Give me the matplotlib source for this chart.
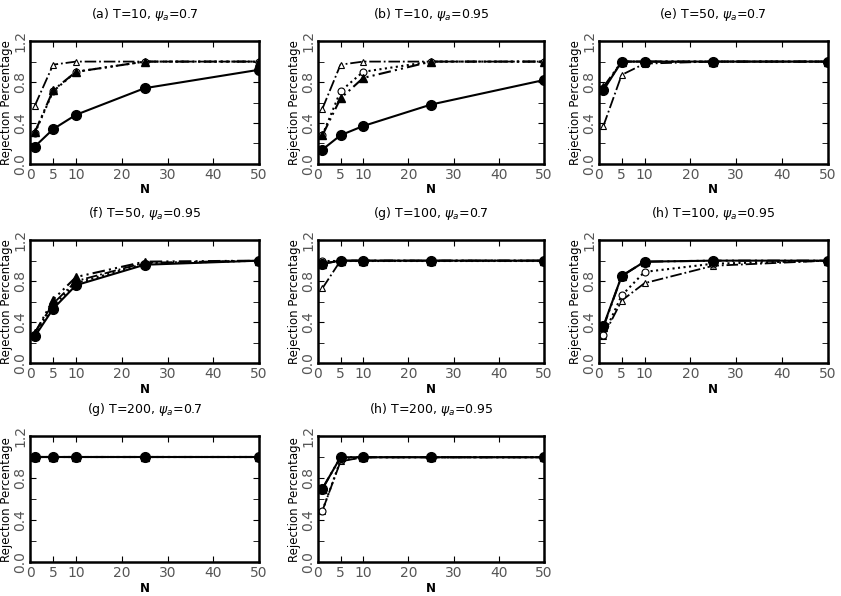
import matplotlib
matplotlib.use('Agg')
import matplotlib.pyplot as plt
from matplotlib.ticker import MultipleLocator

# sample sizes on the x axis
n_vals = [1, 5, 10, 25, 50]

titles = [
    r'(a) T=10, $\psi_a$=0.7',
    r'(b) T=10, $\psi_a$=0.95',
    r'(e) T=50, $\psi_a$=0.7',
    r'(f) T=50, $\psi_a$=0.95',
    r'(g) T=100, $\psi_a$=0.7',
    r'(h) T=100, $\psi_a$=0.95',
    r'(g) T=200, $\psi_a$=0.7',
    r'(h) T=200, $\psi_a$=0.95',
]

# series: solid/filled circle, dashed/filled triangle, dotted/open circle, dashdot/open triangle
s1 = [
    [0.17, 0.34, 0.48, 0.74, 0.92],
    [0.14, 0.28, 0.37, 0.58, 0.82],
    [0.72, 1.0, 1.0, 1.0, 1.0],
    [0.26, 0.53, 0.76, 0.96, 1.0],
    [0.97, 1.0, 1.0, 1.0, 1.0],
    [0.36, 0.85, 0.99, 1.0, 1.0],
    [1.0, 1.0, 1.0, 1.0, 1.0],
    [0.70, 1.0, 1.0, 1.0, 1.0],
]
s2 = [
    [0.31, 0.72, 0.90, 1.0, 1.0],
    [0.28, 0.64, 0.84, 1.0, 1.0],
    [0.75, 1.0, 1.0, 1.0, 1.0],
    [0.29, 0.62, 0.84, 0.99, 1.0],
    [0.97, 1.0, 1.0, 1.0, 1.0],
    [0.35, 0.85, 0.99, 1.0, 1.0],
    [1.0, 1.0, 1.0, 1.0, 1.0],
    [0.70, 1.0, 1.0, 1.0, 1.0],
]
s3 = [
    [0.30, 0.71, 0.90, 1.0, 1.0],
    [0.28, 0.71, 0.90, 1.0, 1.0],
    [0.73, 1.0, 1.0, 1.0, 1.0],
    [0.27, 0.56, 0.78, 0.97, 1.0],
    [1.0, 1.0, 1.0, 1.0, 1.0],
    [0.27, 0.66, 0.89, 0.97, 1.0],
    [1.0, 1.0, 1.0, 1.0, 1.0],
    [0.49, 0.97, 1.0, 1.0, 1.0],
]
s4 = [
    [0.57, 0.97, 1.0, 1.0, 1.0],
    [0.54, 0.97, 1.0, 1.0, 1.0],
    [0.37, 0.87, 0.98, 1.0, 1.0],
    [0.30, 0.58, 0.80, 0.98, 1.0],
    [0.73, 1.0, 1.0, 1.0, 1.0],
    [0.26, 0.61, 0.78, 0.95, 1.0],
    [1.0, 1.0, 1.0, 1.0, 1.0],
    [0.49, 0.96, 1.0, 1.0, 1.0],
]

fig = plt.figure(figsize=(8.41, 5.96), dpi=100)

lefts = [0.036, 0.378, 0.712]
widths = [0.272, 0.269, 0.272]
bottoms = [0.725, 0.391, 0.057]
heights = [0.206, 0.206, 0.211]

for i in range(8):
    r, c = divmod(i, 3)
    ax = fig.add_axes([lefts[c], bottoms[r], widths[c], heights[r]])
    ax.plot(n_vals, s4[i], color='black', linestyle='-.', lw=1.3,
            marker='^', ms=5, mfc='white', mec='black', mew=0.8)
    ax.plot(n_vals, s3[i], color='black', linestyle=':', lw=1.5,
            marker='o', ms=5, mfc='white', mec='black', mew=0.8)
    ax.plot(n_vals, s2[i], color='black', linestyle=(0, (6, 2, 1, 2, 1, 2)), lw=1.5,
            marker='^', ms=6, mfc='black', mec='black')
    ax.plot(n_vals, s1[i], color='black', linestyle='-', lw=1.5,
            marker='o', ms=7, mfc='black', mec='black')
    ax.set_xlim(0, 50)
    ax.set_ylim(0, 1.2)
    ax.set_xticks([0, 5, 10, 20, 30, 40, 50])
    ax.set_yticks([0.0, 0.4, 0.8, 1.2])
    ax.set_yticklabels(['0.0', '0.4', '0.8', '1.2'], rotation=90, va='center')
    ax.yaxis.set_minor_locator(MultipleLocator(0.2))
    ax.tick_params(which='both', direction='in', top=True, right=True,
                   labelsize=10, colors='black', labelcolor='#555555')
    ax.tick_params(axis='x', pad=3)
    ax.tick_params(axis='y', pad=2)
    ax.tick_params(which='major', length=4)
    ax.tick_params(which='minor', length=4)
    for sp in ax.spines.values():
        sp.set_linewidth(1.8)
    ax.set_xlabel('N', fontsize=8.5, labelpad=1, fontweight='bold')
    ax.set_ylabel('Rejection Percentage', fontsize=8.5, labelpad=0)
    ax.set_title(titles[i], fontsize=9, pad=17)

fig.savefig('out.png', dpi=100)
